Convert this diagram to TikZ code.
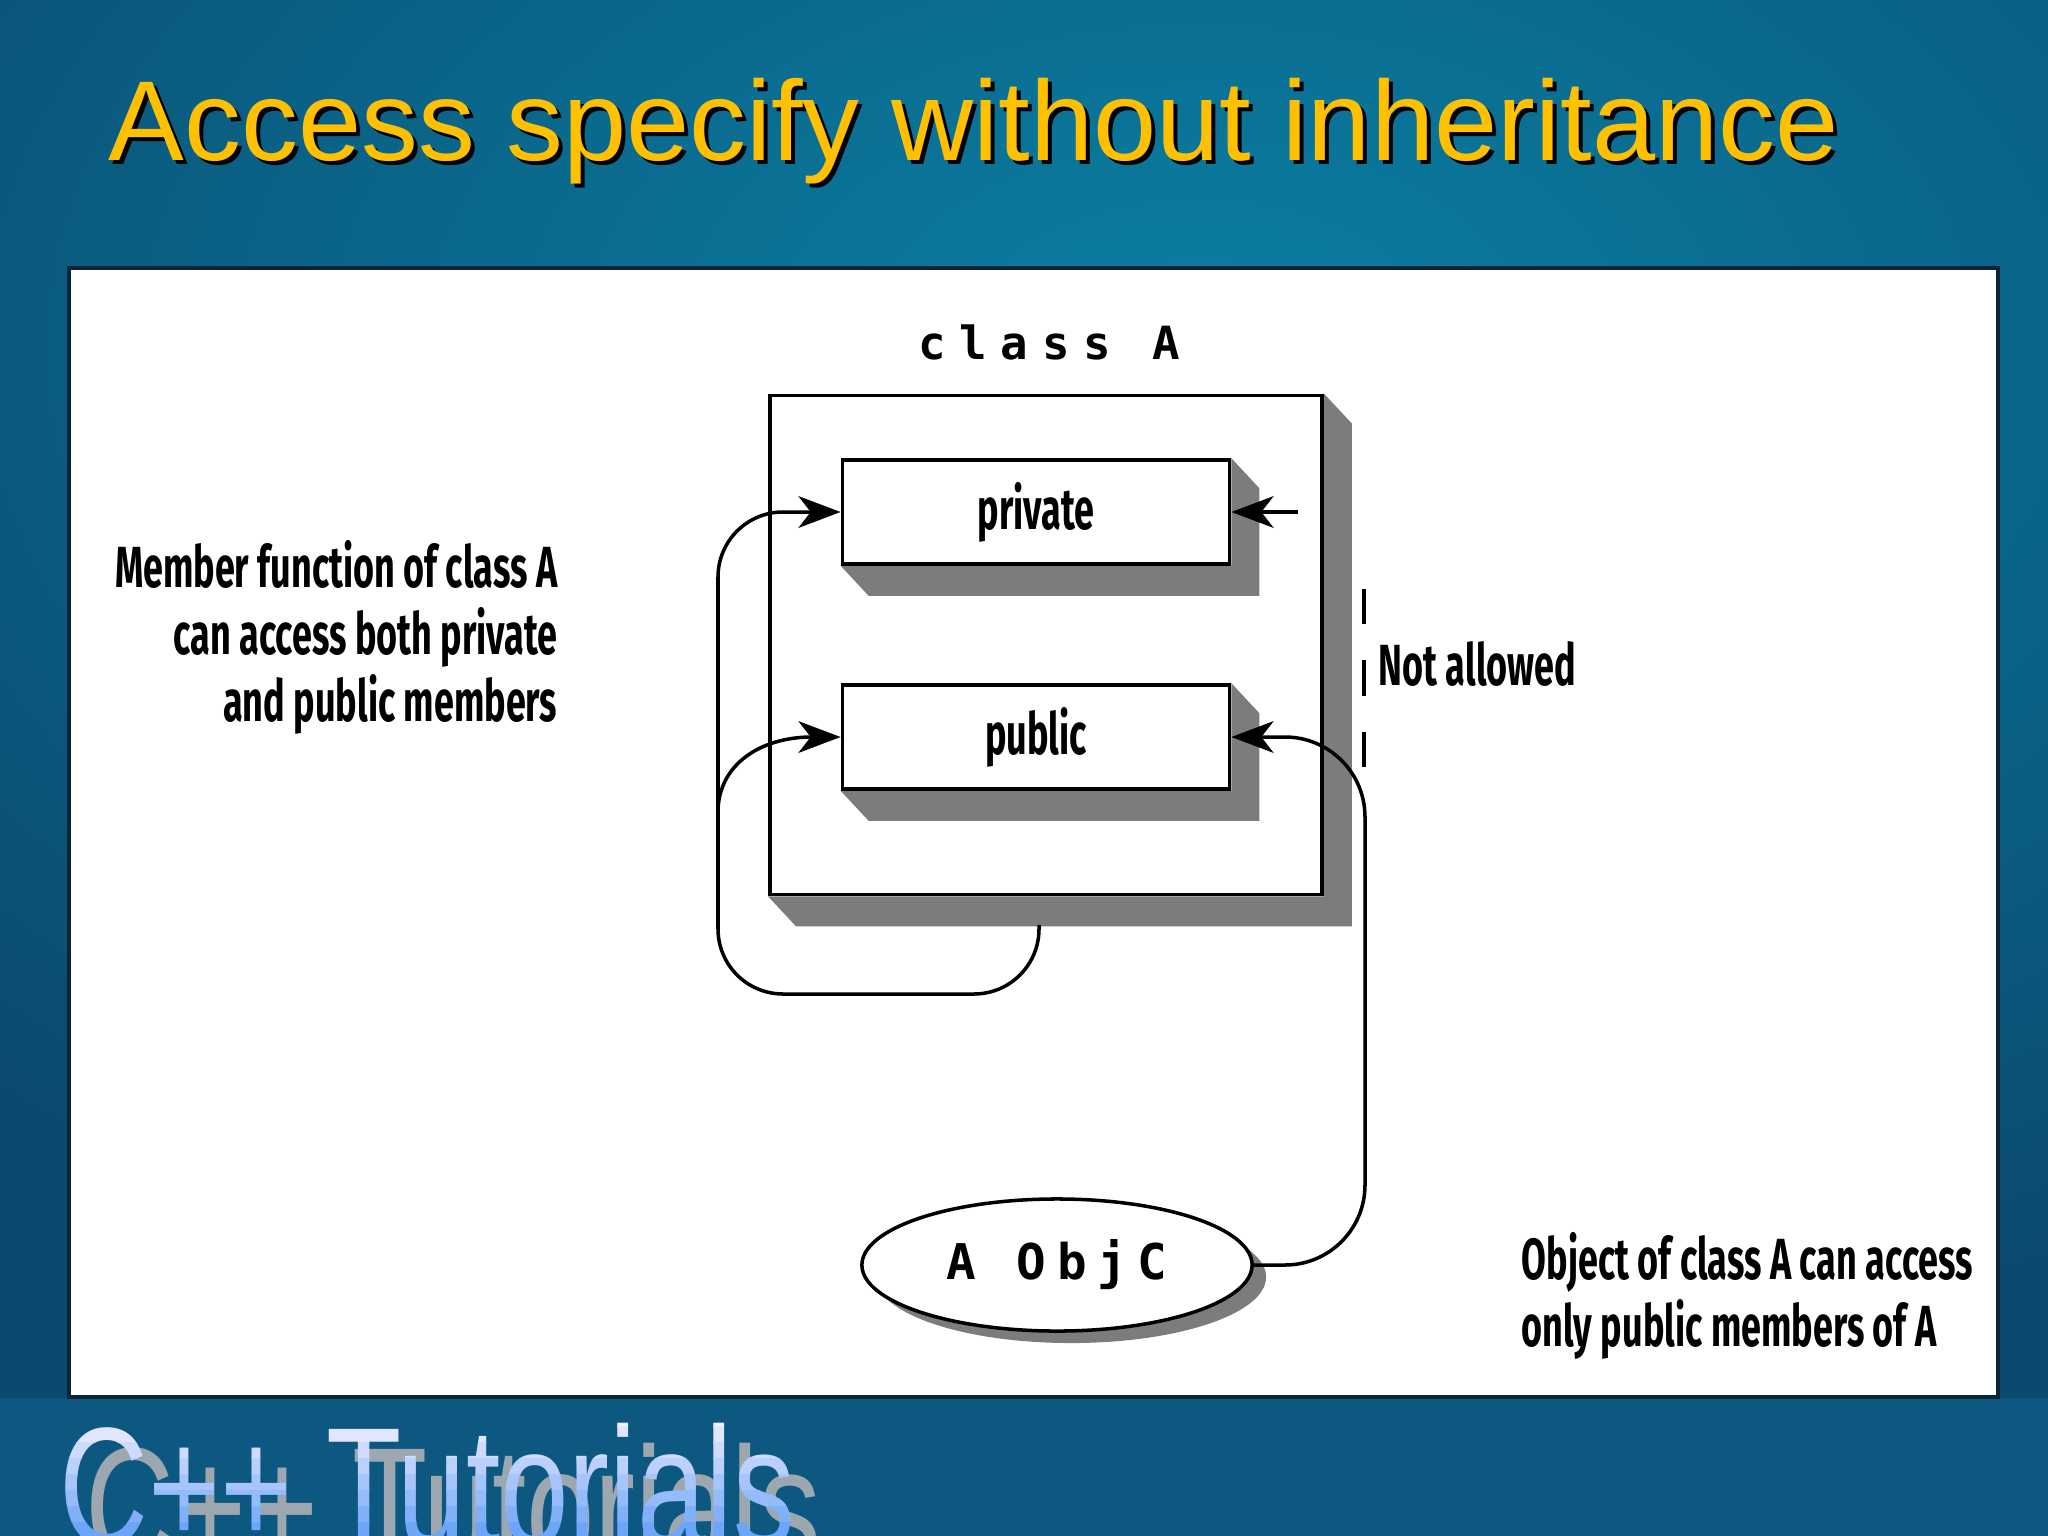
\documentclass[tikz,border=0pt]{standalone}
\usepackage{fontspec}
\setmainfont{Liberation Sans}
\newfontfamily\tutfont[FakeStretch=0.73]{Liberation Sans}
\newfontfamily\labelfont[FakeStretch=0.62]{Fira Sans}
\newfontfamily\codefont{DejaVu Sans Mono}
\usetikzlibrary{arrows.meta,calc,shapes.geometric}
\pgfdeclarelayer{bg}
\pgfsetlayers{bg,main}
\definecolor{bgdark}{HTML}{0A4A6E}
\definecolor{bglite}{HTML}{0A80A4}
\definecolor{bgfoot}{HTML}{0C5880}
\definecolor{titlegold}{HTML}{FFC000}
\definecolor{shadowgray}{HTML}{7C7C7C}
\definecolor{panelrim}{HTML}{0B2438}
\definecolor{tuttop}{HTML}{F6F0FF}
\definecolor{tutbot}{HTML}{6AA4F8}
\definecolor{tutshade}{HTML}{9DA7B0}
\tikzset{
  line/.style={draw=black, line width=1pt},
  conn/.style={line, -{Stealth[length=12pt,width=9pt,inset=3.5pt]}},
  outerbox/.style={line, rectangle, inner sep=0pt,
    minimum width=5.52cm, minimum height=4.99cm},
  memberbox/.style={line, fill=white, rectangle, inner sep=0pt,
    minimum width=3.87cm, minimum height=1.04cm,
    font=\labelfont\bfseries\fontsize{16.5}{19}\selectfont},
  objnode/.style={line, fill=white, ellipse, inner sep=0pt,
    minimum width=3.9cm, minimum height=1.32cm,
    font=\codefont\bfseries\addfontfeature{LetterSpace=22}\fontsize{14}{16}\selectfont},
  lab/.style={font=\labelfont\bfseries\fontsize{16.5}{19}\selectfont, inner sep=0pt},
  codelab/.style={font=\codefont\bfseries\addfontfeature{LetterSpace=30}\fontsize{13}{15}\selectfont, inner sep=0pt},
  title/.style={font=\fontsize{32.3}{36}\selectfont, inner sep=0pt, anchor=base west},
  tut/.style={font=\tutfont\fontsize{48}{52}\selectfont, inner sep=0pt, anchor=base west},
}
\begin{document}
\begin{tikzpicture}[x=0.01cm, y=-0.01cm]
  \useasboundingbox (0,0) rectangle (2048,1536);
  % slide background and white panel
  \begin{pgfonlayer}{bg}
    \fill[bgfoot] (0,0) rectangle (2048,1536);
    \shade[inner color=bglite, outer color=bgdark] (-500,-700) rectangle (2900,1397);
    \draw[panelrim, line width=1.2pt, fill=white] (69,268) rectangle (1998,1397);
  \end{pgfonlayer}
  \node[title, text=black] at (112,164) {Access specify without inheritance};
  \node[title, text=titlegold] (title) at (108,160) {Access specify without inheritance};

  \node[codelab] (classname) at (1049,342) {class A};
  \node[outerbox] (classA) at (1046,645) {};
  \node[memberbox] (priv) at (1036,512) {private};
  \node[memberbox] (pub) at (1036,737) {public};
  \node[objnode] (obj) at (1057,1265) {A ObjC};

  % extruded shadows
  \begin{pgfonlayer}{bg}
    \foreach \b in {classA,priv,pub}
      \fill[shadowgray] (\b.north east) -- ++(28,30) -- ($(\b.south east)+(28,30)$)
        -- ($(\b.south west)+(28,30)$) -- (\b.south west) -- (\b.south east) -- cycle;
    \fill[shadowgray] ($(obj.center)+(14,12)$) ellipse [x radius=1.95cm, y radius=0.66cm];
  \end{pgfonlayer}

  % member functions
  \coordinate (loopstart) at (1039,925);
  \coordinate (split) at (718,812);
  \draw[conn, rounded corners=0.65cm] (loopstart) |- (718,994) -- (718,512) -- (priv.west);
  \draw[conn] (split) .. controls (718,765) and (760,737) .. (pub.west);

  % object access
  \coordinate (privtail) at (1298,512);
  \draw[conn] (privtail) -- (priv.east);
  \draw[conn, rounded corners=0.8cm] (obj.east) -- (1365,1265) -- (1365,737) -- (pub.east);
  \coordinate (dashtop) at (1364,589);
  \coordinate (dashbot) at (1364,767);
  \draw[line, line width=0.9pt, dash pattern=on 10pt off 10.3pt] (dashtop) -- (dashbot);

  \node[lab, anchor=base west] (notallowed) at (1378,685) {Not allowed};
  \node[lab, anchor=north east, align=right] (memberlab) at (558,540)
    {Member function of class A\\can access both private\\and public members};
  \node[lab, anchor=north west, align=left] (objlab) at (1521,1232)
    {Object of class A can access\\only public members of A};

  % footer
  \node[tut, text=tutshade] (tutshadow) at (85,1565) {C++ Tutorials};
  \foreach \i in {0,...,7} {
    \pgfmathsetmacro{\mix}{100-\i*14}
    \begin{scope}
      \clip (0,1410+\i*16) rectangle (1000,1426+\i*16);
      \node[tut, text=tuttop!\mix!tutbot] at (59,1545) {C++ Tutorials};
    \end{scope}
  }
  \node[tut, text opacity=0] (tutorials) at (59,1545) {C++ Tutorials};
\end{tikzpicture}
\end{document}
